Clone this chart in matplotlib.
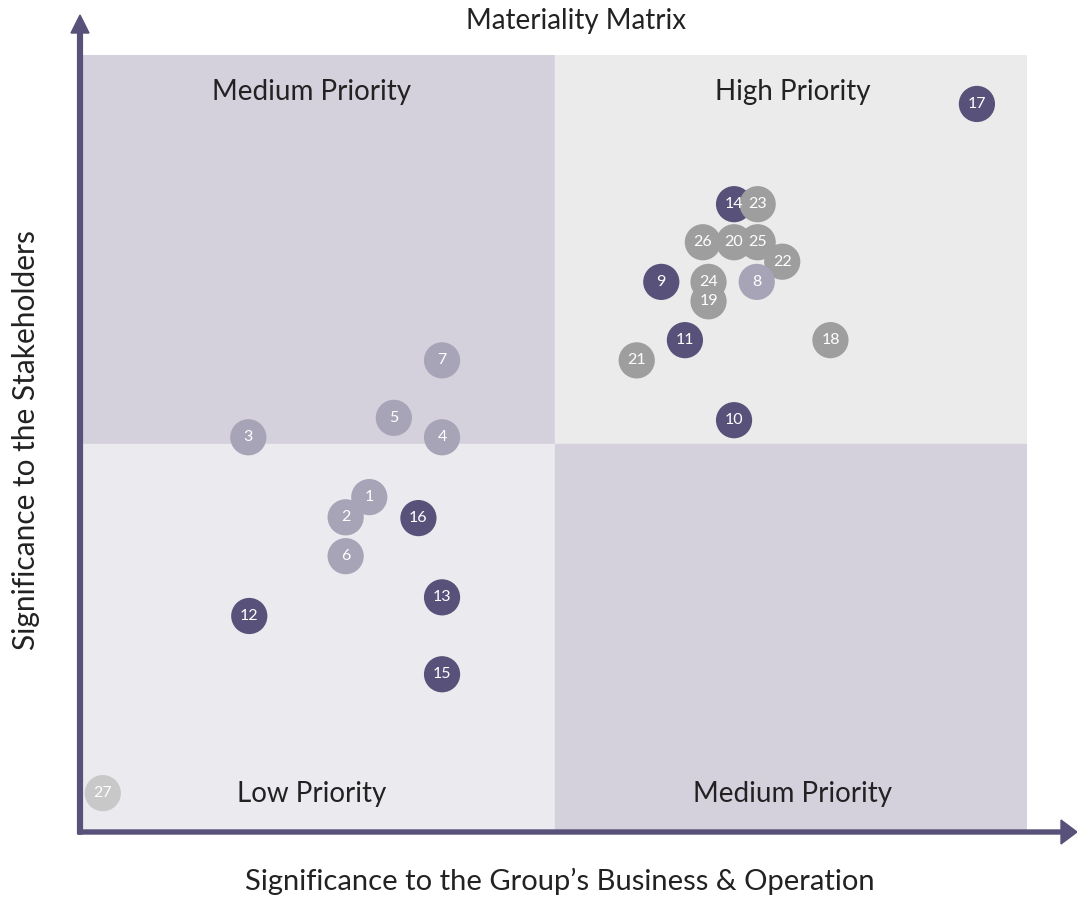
import matplotlib
matplotlib.use("Agg")
import matplotlib.pyplot as plt
from matplotlib.patches import Rectangle, FancyArrow

# 议题编号 / 坐标 / 分组
ids = [17, 14, 23, 26, 20, 25, 22, 9, 24, 8, 19, 11, 18, 21, 10,
       7, 5, 4, 3, 1, 2, 16, 6, 13, 12, 15, 27]
xs = [9.47, 6.90, 7.15, 6.57, 6.90, 7.15, 7.41, 6.13, 6.63, 7.14, 6.63, 6.38, 7.92, 5.87, 6.90,
      3.81, 3.30, 3.81, 1.76, 3.04, 2.79, 3.56, 2.79, 3.81, 1.77, 3.81, 0.22]
ys = [9.37, 8.08, 8.08, 7.59, 7.59, 7.59, 7.34, 7.08, 7.08, 7.08, 6.83, 6.33, 6.33, 6.07, 5.30,
      6.07, 5.33, 5.08, 5.08, 4.31, 4.05, 4.04, 3.55, 3.02, 2.78, 2.03, 0.50]
groups = ["dark", "dark", "gray", "gray", "gray", "gray", "gray", "dark", "gray", "lilac", "gray", "dark", "gray", "gray", "dark",
          "lilac", "lilac", "lilac", "lilac", "lilac", "lilac", "dark", "lilac", "dark", "dark", "dark", "pale"]

quad_labels = ["Medium Priority", "High Priority", "Low Priority", "Medium Priority"]
title = "Materiality Matrix"
xlabel = "Significance to the Group\u2019s Business & Operation"
ylabel = "Significance to the Stakeholders"

colors = {"dark": "#58527a", "gray": "#9e9e9e", "lilac": "#a8a4b8", "pale": "#c8c8c8"}
AX_COLOR = "#58527a"
TXT = "#222222"

plt.rcParams["font.family"] = ["Lato", "DejaVu Sans"]

W, H = 1077, 898
fig = plt.figure(figsize=(W / 100, H / 100), dpi=100)
ax = fig.add_axes([82 / W, (H - 832) / H, 945 / W, 777 / H])
ax.set_xlim(0, 10); ax.set_ylim(0, 10)
ax.axis("off")

# 四象限背景
ax.add_patch(Rectangle((0, 5), 5, 5, color="#d4d1dc", zorder=0))
ax.add_patch(Rectangle((5, 5), 5, 5, color="#ebebeb", zorder=0))
ax.add_patch(Rectangle((0, 0), 5, 5, color="#ebeaee", zorder=0))
ax.add_patch(Rectangle((5, 0), 5, 5, color="#d4d1dc", zorder=0))

qfs = 20
ax.text(2.43, 9.53, quad_labels[0], ha="center", va="center", fontsize=qfs, color=TXT)
ax.text(7.52, 9.53, quad_labels[1], ha="center", va="center", fontsize=qfs, color=TXT)
ax.text(2.43, 0.49, quad_labels[2], ha="center", va="center", fontsize=qfs, color=TXT)
ax.text(7.52, 0.49, quad_labels[3], ha="center", va="center", fontsize=qfs, color=TXT)

for i, x, y, g in zip(ids, xs, ys, groups):
    ax.scatter(x, y, s=680, color=colors[g], edgecolors="none", zorder=3)
    ax.text(x, y, str(i), ha="center", va="center", fontsize=11.5, color="white", zorder=4)

# 坐标轴箭头
fig.patches.append(FancyArrow(
    80 / W, (H - 834) / H, 0, (834 - 15) / H, width=4 / H, head_width=18 / W,
    head_length=18 / H, length_includes_head=True, color=AX_COLOR, transform=fig.transFigure))
fig.patches.append(FancyArrow(
    78 / W, (H - 832) / H, (1077 - 78) / W, 0, width=4 / H, head_width=24 / H,
    head_length=16 / W, length_includes_head=True, color=AX_COLOR, transform=fig.transFigure))

fig.text(576 / W, 1 - 21 / H, title, ha="center", va="center", fontsize=20, color=TXT)
fig.text(560 / W, 1 - 881 / H, xlabel, ha="center", va="center", fontsize=21, color=TXT)
fig.text(26 / W, 1 - 440 / H, ylabel, ha="center", va="center", rotation=90, fontsize=21.5, color=TXT)

fig.savefig("out.png", dpi=100)
